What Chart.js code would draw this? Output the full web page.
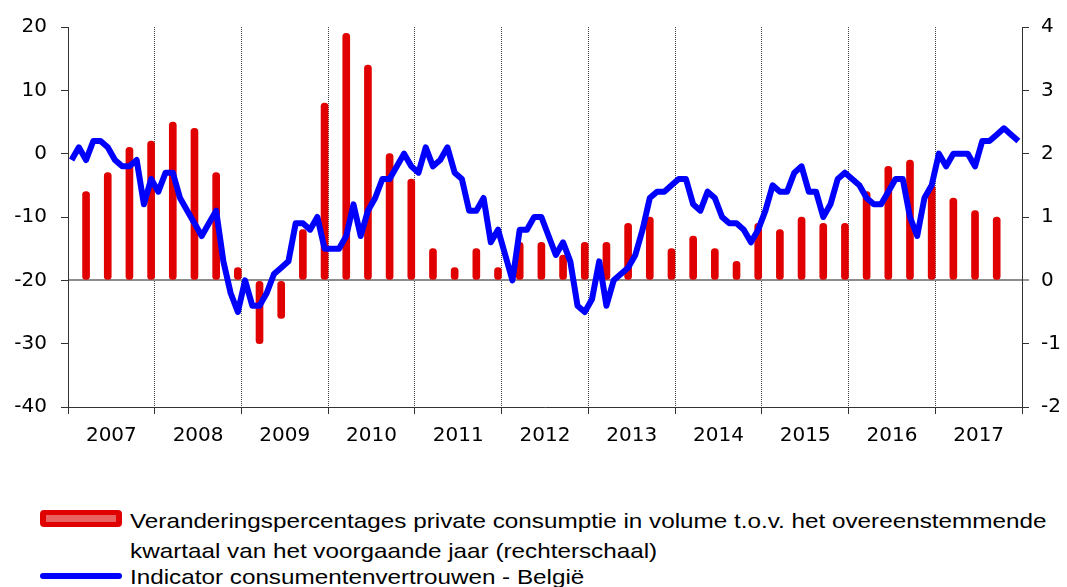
<!DOCTYPE html>
<html>
<head>
<meta charset="utf-8">
<title>Consumentenvertrouwen en private consumptie</title>
<script src="https://cdn.jsdelivr.net/npm/chart.js@4.4.1/dist/chart.umd.min.js"></script>
<style>
  html, body { margin: 0; padding: 0; background: #fff; }
  body {
    width: 1067px; height: 587px; position: relative; overflow: hidden;
    font-family: "Liberation Sans", Arial, sans-serif; color: #000;
  }
  #chart { position: absolute; left: 0; top: 0; }
  .lg-text {
    position: absolute; left: 130px; font-size: 21px; line-height: 21px; white-space: nowrap;
    transform: scaleX(1.155); transform-origin: 0 0;
  }
  .sw-bar {
    position: absolute; left: 40px; top: 510px; width: 82px; height: 17px;
    background: #e00000; border-radius: 4px;
  }
  .sw-bar::after {
    content: ""; position: absolute; left: 6px; right: 6px; top: 5px; height: 7px;
    background: #e86262;
  }
  .sw-line {
    position: absolute; left: 40px; top: 573px; width: 82px; height: 6px;
    background: #0000ff; border-radius: 3px;
  }
</style>
</head>
<body>
<canvas id="chart" width="1067" height="450"></canvas>

<div class="sw-bar"></div>
<div class="lg-text" style="top:510px">Veranderingspercentages private consumptie in volume t.o.v. het overeenstemmende</div>
<div class="lg-text" style="top:540px">kwartaal van het voorgaande jaar (rechterschaal)</div>
<div class="sw-line"></div>
<div class="lg-text" style="top:566px">Indicator consumentenvertrouwen - België</div>

<script>
/* ── Data ─────────────────────────────────────────── */
const years = ["2007", "2008", "2009", "2010", "2011", "2012", "2013", "2014", "2015", "2016", "2017"];

// Indicator consumentenvertrouwen, monthly, jan 2007 - dec 2017 (left axis)
const confidence = [
  -1, 1, -1, 2, 2, 1, -1, -2, -2, -1, -8, -4,            // 2007
  -6, -3, -3, -7, -9, -11, -13, -11, -9, -17, -22, -25,  // 2008
  -20, -24, -24, -22, -19, -18, -17, -11, -11, -12, -10, -15, // 2009
  -15, -15, -13, -8, -13, -9, -7, -4, -4, -2, 0, -2,     // 2010
  -3, 1, -2, -1, 1, -3, -4, -9, -9, -7, -14, -12,        // 2011
  -16, -20, -12, -12, -10, -10, -13, -16, -14, -17, -24, -25, // 2012
  -23, -17, -24, -20, -19, -18, -16, -12, -7, -6, -6, -5, // 2013
  -4, -4, -8, -9, -6, -7, -10, -11, -11, -12, -14, -12,  // 2014
  -9, -5, -6, -6, -3, -2, -6, -6, -10, -8, -4, -3,       // 2015
  -4, -5, -7, -8, -8, -6, -4, -4, -10, -13, -7, -5,      // 2016
  0, -2, 0, 0, 0, -2, 2, 2, 3, 4, 3, 2                   // 2017
];

// Private consumptie, % t.o.v. zelfde kwartaal vorig jaar, Q1 2007 - Q3 2017 (right axis)
const consumption = [
  1.4, 1.7, 2.1, 2.2,   // 2007
  2.5, 2.4, 1.7, 0.2,   // 2008
  -1.0, -0.6, 0.8, 2.8, // 2009
  3.9, 3.4, 2.0, 1.6,   // 2010
  0.5, 0.2, 0.5, 0.2,   // 2011
  0.6, 0.6, 0.4, 0.6,   // 2012
  0.6, 0.9, 1.0, 0.5,   // 2013
  0.7, 0.5, 0.3, 0.9,   // 2014
  0.8, 1.0, 0.9, 0.9,   // 2015
  1.4, 1.8, 1.9, 1.5,   // 2016
  1.3, 1.1, 1.0         // 2017
];

const leftTicks = { min: -40, max: 20, step: 10 };
const rightTicks = { min: -2, max: 4, step: 1 };

/* ── Helpers ──────────────────────────────────────── */
const MONTHS = years.length * 12;
const FONT = { family: "'DejaVu Sans', sans-serif", size: 20 };
const AXIS = "#333333";

// month index -> centre of that month on the x scale
const linePoints = confidence.map((v, i) => ({ x: i + 0.5, y: v }));
// quarter values sit on the last month of the quarter
const barPoints = consumption.map((v, q) => ({ x: q * 3 + 2.5, y: v }));

/* ── Chart ────────────────────────────────────────── */
new Chart(document.getElementById("chart"), {
  type: "bar",
  data: {
    datasets: [
      {
        type: "line",
        label: "Indicator consumentenvertrouwen - België",
        data: linePoints,
        yAxisID: "y",
        borderColor: "#0000ff",
        borderWidth: 6,
        borderJoinStyle: "round",
        pointRadius: 0,
        tension: 0,
        order: 0
      },
      {
        type: "bar",
        label: "Veranderingspercentages private consumptie",
        data: barPoints,
        yAxisID: "y1",
        backgroundColor: "#e00000",
        barThickness: 7,
        borderRadius: 3.5,
        borderSkipped: false,
        order: 1
      }
    ]
  },
  options: {
    responsive: false,
    animation: false,
    devicePixelRatio: 1,
    layout: { padding: { top: 27, left: 0, right: 0, bottom: 0 } },
    plugins: { legend: { display: false }, tooltip: { enabled: false } },
    scales: {
      x: {
        type: "linear",
        min: 0,
        max: MONTHS,
        offset: false,
        afterBuildTicks: s => {
          s.ticks = [];
          for (let m = 0; m <= MONTHS; m += 6) s.ticks.push({ value: m });
        },
        afterFit: s => { s.height = 43; },
        ticks: {
          autoSkip: false,
          maxRotation: 0,
          padding: 10,
          color: "#000",
          font: FONT,
          callback: v => (v % 12 === 6 ? years[(v - 6) / 12] : "")
        },
        grid: {
          offset: false,
          lineWidth: 1,
          color: c => {
            const v = c.tick ? c.tick.value : -1;
            return v % 12 === 0 && v > 0 && v < MONTHS ? "#444" : "rgba(0,0,0,0)";
          },
          tickColor: c => (c.tick && c.tick.value % 12 === 0 ? AXIS : "rgba(0,0,0,0)"),
          tickLength: 7,
          tickWidth: 1
        },
        border: { color: AXIS, width: 1, dash: [1, 1] }
      },
      y: {
        position: "left",
        min: leftTicks.min,
        max: leftTicks.max,
        afterFit: s => { s.width = 68; },
        ticks: { stepSize: leftTicks.step, padding: 14, color: "#000", font: FONT },
        grid: { drawOnChartArea: false, tickLength: 7, tickColor: AXIS },
        border: { color: AXIS, width: 1 }
      },
      y1: {
        position: "right",
        min: rightTicks.min,
        max: rightTicks.max,
        afterFit: s => { s.width = 45; },
        ticks: { stepSize: rightTicks.step, padding: 12, color: "#000", font: FONT },
        grid: {
          drawOnChartArea: true,
          color: c => (c.tick && c.tick.value === 0 ? "#8c8c8c" : "rgba(0,0,0,0)"),
          lineWidth: c => (c.tick && c.tick.value === 0 ? 2 : 1),
          tickColor: AXIS,
          tickWidth: 1,
          tickLength: 7
        },
        border: { color: AXIS, width: 1 }
      }
    }
  }
});
</script>
</body>
</html>
